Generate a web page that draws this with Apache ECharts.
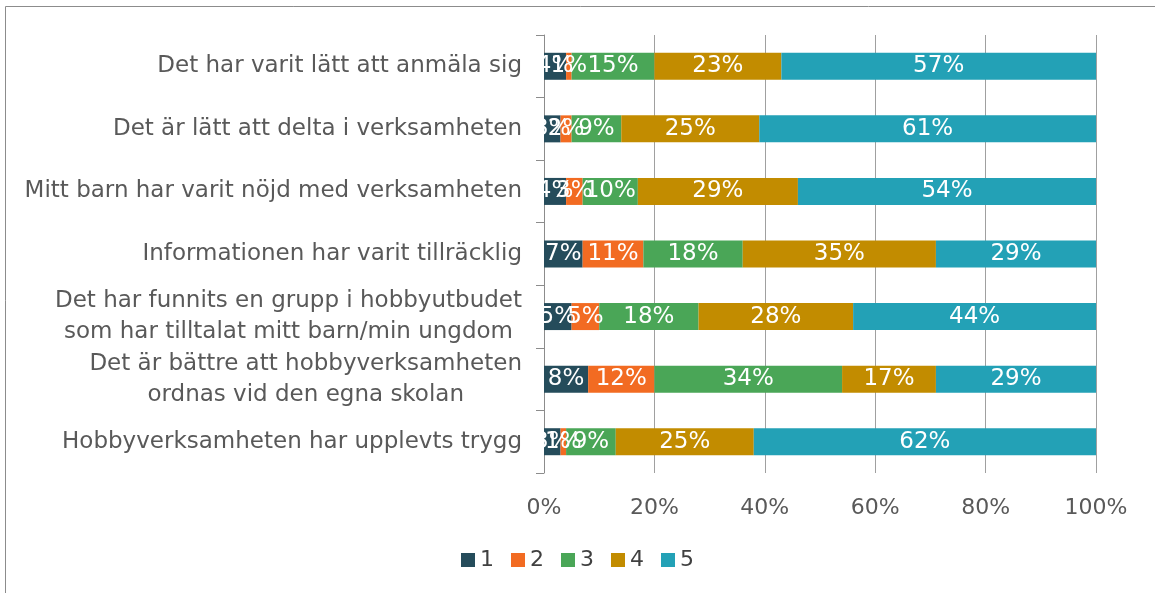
<!DOCTYPE html>
<html>
<head>
<meta charset="utf-8">
<script src="https://cdn.jsdelivr.net/npm/echarts@6/dist/echarts.min.js"></script>
<style>html,body{margin:0;padding:0;background:#fff}#c{width:1155px;height:593px}</style>
</head>
<body>
<div id="c"></div>
<script>
var categories = [
  "Det har varit lätt att anmäla sig",
  "Det är lätt att delta i verksamheten",
  "Mitt barn har varit nöjd med verksamheten",
  "Informationen har varit tillräcklig",
  "Det har funnits en grupp i hobbyutbudet\nsom har tilltalat mitt barn/min ungdom",
  "Det är bättre att hobbyverksamheten\nordnas vid den egna skolan",
  "Hobbyverksamheten har upplevts trygg"
];
var seriesNames = ["1", "2", "3", "4", "5"];
var s1 = [4, 3, 4, 7, 5, 8, 3];
var s2 = [1, 2, 3, 11, 5, 12, 1];
var s3 = [15, 9, 10, 18, 18, 34, 9];
var s4 = [23, 25, 29, 35, 28, 17, 25];
var s5 = [57, 61, 54, 29, 44, 29, 62];
var xTicks = ["0%", "20%", "40%", "60%", "80%", "100%"];
var colors = ["#254C5B", "#F26B22", "#4AA657", "#C28C00", "#23A1B6"];

var allData = [s1, s2, s3, s4, s5];
var font = "'DejaVu Sans', sans-serif";
var series = allData.map(function (d, i) {
  return {
    name: seriesNames[i],
    type: 'bar',
    stack: 'total',
    barWidth: 27,
    data: d,
    itemStyle: { color: colors[i] },
    label: {
      show: true,
      position: 'inside',
      formatter: '{c}%',
      color: '#fff',
      fontSize: 23,
      fontFamily: font
    }
  };
});

var chart = echarts.init(document.getElementById('c'));
chart.setOption({
  animation: false,
  graphic: [{
    type: 'rect',
    shape: { x: 5.5, y: 6.5, width: 1200, height: 700 },
    style: { fill: 'none', stroke: '#8C8C8C', lineWidth: 1 },
    silent: true
  }],
  grid: { left: 544, right: 59, top: 35, bottom: 120, containLabel: false },
  legend: {
    bottom: 17,
    left: 'center',
    icon: 'rect',
    itemWidth: 14,
    itemHeight: 14,
    itemGap: 17,
    textStyle: { fontSize: 22, color: '#404040', fontFamily: font },
    data: seriesNames
  },
  xAxis: {
    type: 'value',
    min: 0,
    max: 100,
    interval: 20,
    axisLine: { show: false },
    axisTick: { show: false },
    splitLine: { show: true, lineStyle: { color: '#A0A0A0', width: 1 } },
    axisLabel: {
      margin: 24,
      fontSize: 22,
      color: '#595959',
      fontFamily: font,
      formatter: function (v) { return xTicks[Math.round(v / 20)]; }
    }
  },
  yAxis: {
    type: 'category',
    inverse: true,
    data: categories,
    axisLine: { show: true, lineStyle: { color: '#8C8C8C' } },
    axisTick: { show: true, length: 8, lineStyle: { color: '#8C8C8C' } },
    axisLabel: {
      margin: 22,
      fontSize: 23,
      color: '#595959',
      fontFamily: font,
      lineHeight: 31,
      formatter: function (v) {
        return v.split('\n').map(function (l) { return '{c|' + l + '}'; }).join('\n');
      },
      rich: { c: { align: 'center', fontSize: 23, color: '#595959', fontFamily: font, lineHeight: 31 } }
    }
  },
  series: series
});
</script>
</body>
</html>
